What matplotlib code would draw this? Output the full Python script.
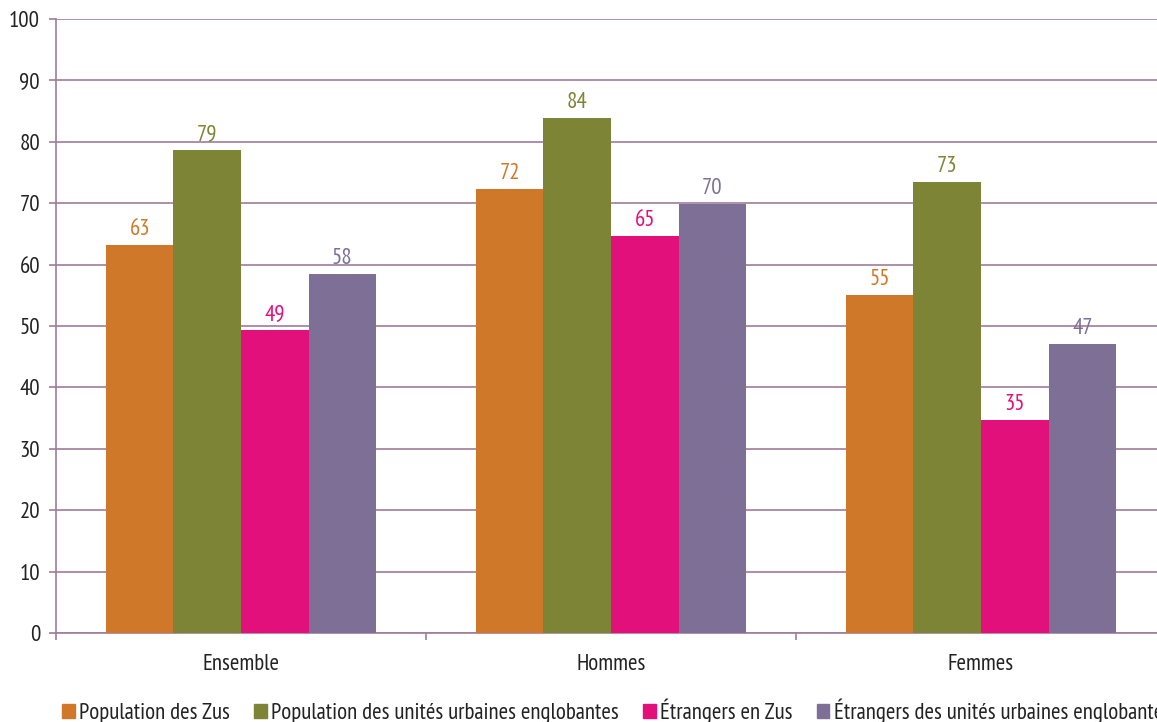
import numpy as np
import matplotlib.pyplot as plt
from matplotlib.patches import Patch

plt.rcParams['font.family'] = ['PT Sans Narrow', 'Roboto Condensed', 'Liberation Sans', 'DejaVu Sans']

categories = ["Ensemble", "Hommes", "Femmes"]
series = ["Population des Zus",
          "Population des unités urbaines englobantes",
          "Étrangers en Zus",
          "Étrangers des unités urbaines englobantes"]
zus = [63.2, 72.3, 55.0]
uu = [78.7, 83.9, 73.5]
etr_zus = [49.3, 64.7, 34.7]
etr_uu = [58.5, 69.9, 47.1]
labels = [[63, 72, 55], [79, 84, 73], [49, 65, 35], [58, 70, 47]]
colors = ["#D0782A", "#7E8436", "#E2107B", "#7E6F96"]

grid_col = "#A07C9C"
txt_col = "#222222"
fs = 16.5

fig = plt.figure(figsize=(11.57, 7.22), dpi=100)
ax = fig.add_axes([56/1157, 89/722, 1110/1157, 614/722])

x = np.arange(len(categories))
w = 0.1825
for i, vals in enumerate([zus, uu, etr_zus, etr_uu]):
    pos = x + (i - 1.5) * w
    ax.bar(pos, vals, width=w, color=colors[i], zorder=3)
    for p, v, lab in zip(pos, vals, labels[i]):
        ax.text(p, v + 0.8, str(lab), ha="center", va="bottom",
                color=colors[i], fontsize=fs)

ax.set_ylim(0, 100)
ax.set_xlim(-0.5, 2.5)
ax.set_yticks(range(0, 101, 10))
ax.yaxis.grid(True, color=grid_col, lw=1.2, zorder=0)
ax.set_xticks(x)
ax.set_xticklabels(categories)
ax.set_xticks([-0.5, 0.5, 1.5, 2.5], minor=True)
ax.tick_params(axis="x", which="major", length=0, pad=15, labelsize=fs, labelcolor=txt_col)
ax.tick_params(axis="x", which="minor", length=5, color=grid_col, width=1.2)
ax.tick_params(axis="y", length=5, color=grid_col, width=1.2, labelsize=fs, labelcolor=txt_col, pad=6.5)
for s in ["top", "right"]:
    ax.spines[s].set_visible(False)
for s in ["left", "bottom"]:
    ax.spines[s].set_color(grid_col)
    ax.spines[s].set_linewidth(1.2)

handles = [Patch(color=c) for c in colors]
fig.legend(handles, series, loc="center left", bbox_to_anchor=(62/1157, 11/722),
           ncol=4, frameon=False, fontsize=fs, handlelength=0.55, handleheight=0.55,
           handletextpad=0.2, columnspacing=1.05, borderpad=0, borderaxespad=0,
           labelcolor=txt_col)

fig.savefig("out.png", dpi=100)
